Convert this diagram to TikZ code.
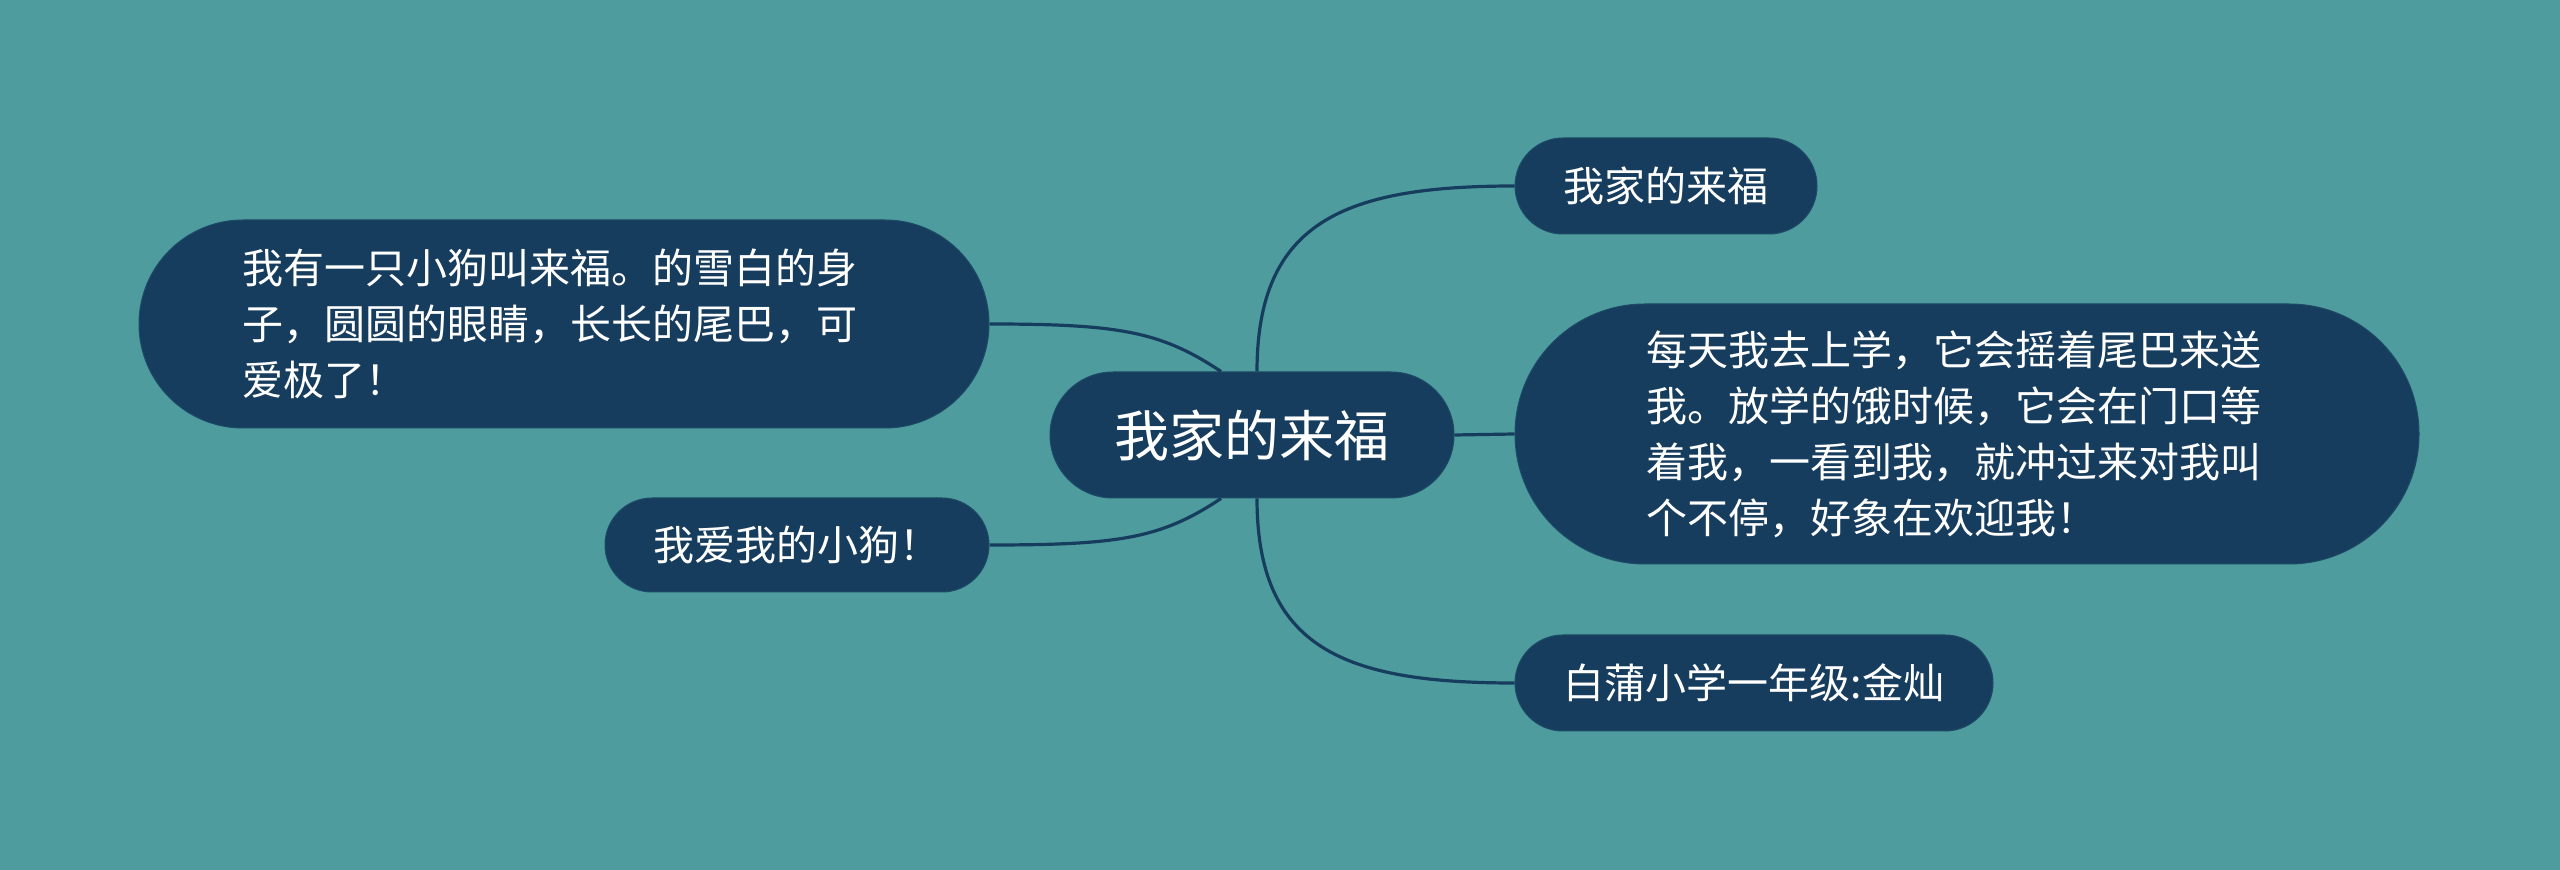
\documentclass[tikz,border=0pt]{standalone}
\usepackage{fontspec}
\setmainfont{Noto Sans CJK SC}
\usetikzlibrary{shapes.misc}
\definecolor{bgteal}{HTML}{4E9C9E}
\definecolor{nodefill}{HTML}{173D5E}
\definecolor{nodeline}{HTML}{1D4A66}
\tikzset{
  topic/.style={rounded rectangle, fill=nodefill, draw=nodeline, line width=0.5pt,
    text=white, inner sep=0pt},
  subtopic/.style={topic, font=\fontsize{20.5}{28}\selectfont},
  branch/.style={draw=nodefill, line width=1.6pt}
}
\begin{document}
\begin{tikzpicture}[x=0.5pt,y=-0.5pt]
    % background
    \fill[bgteal] (0,0) rectangle (2560,870);
    \useasboundingbox (0,0) rectangle (2560,870);

    % Central topic
    \node[topic, minimum width=202pt, minimum height=63pt,
      font=\fontsize{27.5}{32}\selectfont] (root) at (1252,435) {我家的来福};

    % Right side
    \node[subtopic, minimum width=151pt, minimum height=48pt] (title) at (1666,186) {我家的来福};
    \node[subtopic, minimum width=452pt, minimum height=130pt, align=left, text width=321pt] (school) at (1967,434)
      {每天我去上学，它会摇着尾巴来送\\我。放学的饿时候，它会在门口等\\着我，一看到我，就冲过来对我叫\\个不停，好象在欢迎我！};
    \node[subtopic, minimum width=239pt, minimum height=48pt] (author) at (1754,683) {白蒲小学一年级:金灿};

    % Left side
    \node[subtopic, minimum width=425pt, minimum height=104pt, align=left, text width=322pt] (dog) at (564,324)
      {我有一只小狗叫来福。的雪白的身\\子，圆圆的眼睛，长长的尾巴，可\\爱极了！};
    \node[subtopic, minimum width=192pt, minimum height=47pt] (love) at (797,545) {我爱我的小狗！};

    % Connectors
    \draw[branch] (root.east) -- (school.west);
    \draw[branch] ([xshift=2.5pt]root.north) .. controls +(0,-150) and +(-170,0) .. (title.west);
    \draw[branch] ([xshift=2.5pt]root.south) .. controls +(0,150) and +(-170,0) .. (author.west);
    \draw[branch] ([xshift=-15.5pt]root.north) .. controls +(-60,-40) and +(130,0) .. (dog.east);
    \draw[branch] ([xshift=-15.5pt]root.south) .. controls +(-60,40) and +(130,0) .. (love.east);
\end{tikzpicture}
\end{document}
